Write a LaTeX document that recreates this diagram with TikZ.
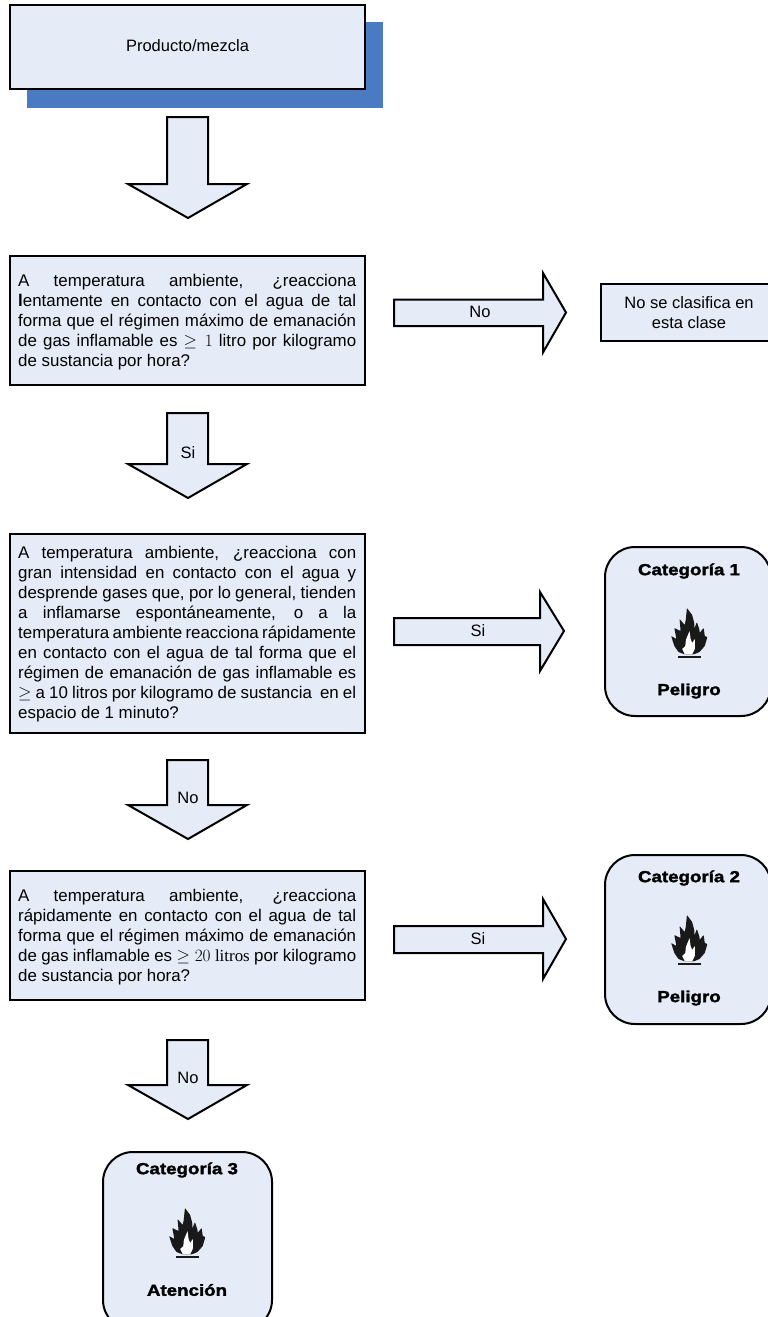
\documentclass[tikz,border=0pt]{standalone}
\usepackage{fontspec}
\setmainfont{Liberation Sans}
\newfontfamily\widebold[FakeStretch=1.17,FakeBold=2]{Liberation Sans Bold}
\newfontfamily\timesf{Liberation Serif}
\newcommand{\jl}[1]{\hbox to 338pt{#1}}
\newcommand{\lastl}[1]{\hbox to 338pt{#1\hfil}}
\newcommand{\qtext}[1]{\vbox{\hsize=338pt\fontsize{16.9pt}{20pt}\selectfont\baselineskip=20pt #1}}
\definecolor{boxfill}{HTML}{E6ECF7}
\definecolor{shadowblue}{HTML}{4A7AC1}
\tikzset{
 x=1pt,y=-1pt,
 boxnode/.style={draw=black,fill=boxfill,line width=2.2pt,inner sep=0pt,outer sep=0pt,rectangle},
 arrowshape/.style={draw=black,fill=boxfill,line width=2pt,line join=miter,miter limit=10},
 catbox/.style={draw=black,fill=boxfill,line width=2pt,rounded corners=30pt},
 lab/.style={font=\fontsize{16.5pt}{19.5pt}\selectfont,inner sep=0pt},
 cattext/.style={font=\fontsize{16pt}{18pt}\widebold,inner sep=0pt},
 flame/.pic={
  \begin{scope}[xscale=1.05]
  \fill[black!90,rounded corners=0.6pt] (-4.3,-2.7)--(-10,-5)--(-14,-11)--(-17,-21)--(-12,-18)--(-14,-29)--(-8,-26)--(-9,-38)--(-4,-32)--(-3,-38)--(-2,-49)--(3,-42)--(5,-34)--(5,-28)--(7.5,-35)--(10,-27)--(10,-24)--(14,-29)--(15,-21)--(17.5,-20)--(15,-11)--(10,-5)--(4.7,-2.7)--cycle;
  \fill[white,rounded corners=0.4pt] (-4,-2.7)--(-6.5,-8)--(-3.5,-11)--(-3,-17)--(0.5,-26)--(1.5,-18)--(3,-14)--(5.5,-18)--(5.5,-8)--(3,-2.7)--cycle;
  \end{scope}
  \fill[black!90] (-11.5,-0.9) rectangle (11.5,0.9);
 }
}
\begin{document}
\begin{tikzpicture}
\useasboundingbox (0,0) rectangle (768,1317);
% top box
\fill[shadowblue] (27,22) rectangle (383,108);
\node[boxnode,minimum width=355pt,minimum height=84pt] (start) at (187.5,47) {};
\node[lab] (starttext) at (187.5,46) {Producto/mezcla};
% down arrows
\draw[arrowshape] (167,117)--(208,117)--(208,184)--(247,184)--(188,218)--(128,184)--(167,184)--cycle;
\draw[arrowshape] (167,413)--(208,413)--(208,464)--(247,464)--(188,498)--(128,464)--(167,464)--cycle;
\node[lab] (si1) at (188,453) {Si};
\draw[arrowshape] (167,760)--(208,760)--(208,805)--(247,805)--(188,839)--(128,805)--(167,805)--cycle;
\node[lab] (no2) at (188,798) {No};
\draw[arrowshape] (167,1040)--(208,1040)--(208,1085)--(247,1085)--(188,1119)--(128,1085)--(167,1085)--cycle;
\node[lab] (no3) at (188,1078) {No};
% question boxes
\node[boxnode,minimum width=355pt,minimum height=129pt] (q1) at (187.5,320.5) {};
\node[anchor=north west,inner sep=0pt] (q1t) at (18,274.5) {\qtext{%
\jl{A temperatura ambiente, ¿reacciona}
\jl{\textbf{l}entamente en contacto con el agua de tal}
\jl{forma que el régimen máximo de emanación}
\jl{de gas inflamable es $\geq 1$ litro por kilogramo}
\lastl{de sustancia por hora?}}};
\node[boxnode,minimum width=355pt,minimum height=199pt] (q2) at (187.5,633.5) {};
\node[anchor=north west,inner sep=0pt] (q2t) at (18,546) {\qtext{%
\jl{A temperatura ambiente, ¿reacciona con}
\jl{gran intensidad en contacto con el agua y}
\jl{desprende gases que, por lo general, tienden}
\jl{a inflamarse espontáneamente, o a la}
\jl{temperatura ambiente reacciona rápidamente}
\jl{en contacto con el agua de tal forma que el}
\jl{régimen de emanación de gas inflamable es}
\jl{$\geq$ a 10 litros por kilogramo de sustancia\ \ en el}
\lastl{espacio de 1 minuto?}}};
\node[boxnode,minimum width=355pt,minimum height=129pt] (q3) at (187.5,935.5) {};
\node[anchor=north west,inner sep=0pt] (q3t) at (18,889.5) {\qtext{%
\jl{A temperatura ambiente, ¿reacciona}
\jl{rápidamente en contacto con el agua de tal}
\jl{forma que el régimen máximo de emanación}
\jl{de gas inflamable es $\geq 20$ {\timesf litros} por kilogramo}
\lastl{de sustancia por hora?}}};
% right arrows
\draw[arrowshape] (394,299.5)--(543,299.5)--(543,273)--(566,312.5)--(543,352.5)--(543,326)--(394,326)--cycle;
\node[lab] (no1) at (480,312) {No};
\draw[arrowshape] (394,618)--(540,618)--(540,592)--(564,631)--(540,671)--(540,645)--(394,645)--cycle;
\node[lab] (si2) at (478,631) {Si};
\draw[arrowshape] (394,926)--(543,926)--(543,899)--(566,939)--(543,979)--(543,953)--(394,953)--cycle;
\node[lab] (si3) at (478,939) {Si};
% no class box
\node[boxnode,minimum width=170pt,minimum height=57pt] (nc) at (686,312.5) {};
\node[lab,align=center] (nct) at (689,312.5) {No se clasifica en\\esta clase};
% categories
\draw[catbox] (605,547) rectangle (771,716);
\node[cattext] (c1) at (689,571) {Categoría 1};
\pic at (689,657) {flame};
\node[cattext] (p1) at (689,691) {Peligro};
\draw[catbox] (605,855) rectangle (771,1024);
\node[cattext] (c2) at (689,878) {Categoría 2};
\pic at (689,964) {flame};
\node[cattext] (p2) at (689,998) {Peligro};
\draw[catbox] (103,1152) rectangle (272,1330);
\node[cattext] (c3) at (187,1170) {Categoría 3};
\pic at (187,1257) {flame};
\node[cattext] (p3) at (187,1290) {Atención};
\end{tikzpicture}
\end{document}
